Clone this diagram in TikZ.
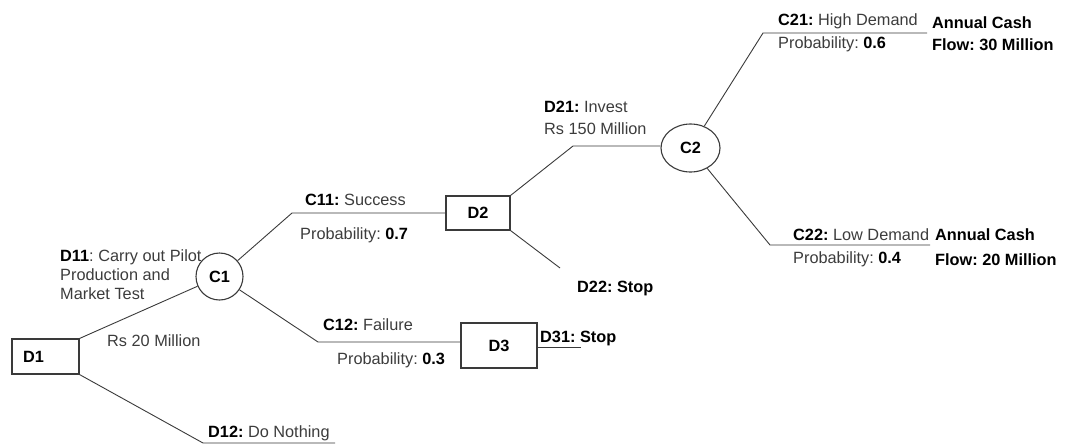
\documentclass[tikz,border=0pt]{standalone}
\usepackage{fontspec}
\setmainfont{Liberation Sans}
\usetikzlibrary{shapes.geometric}
\definecolor{ln}{HTML}{3A3A3A}
\definecolor{tx}{HTML}{3C3C3C}
\newcommand\kb[1]{\textbf{\color{black}#1}}
\frenchspacing
\begin{document}
\frenchspacing
\begin{tikzpicture}[x=1pt,y=-1pt,
  every node/.style={font=\fontsize{16.3}{19}\selectfont\frenchspacing, text=tx},
  lbl/.style={inner sep=0pt, anchor=base west},
  blk/.style={inner sep=0pt, anchor=north west, align=left},
  dbox/.style={draw=ln, line width=1.1pt, fill=white, rectangle, inner sep=0pt},
  cnode/.style={draw=ln, line width=1.1pt, fill=white, ellipse, inner sep=0pt},
  conn/.style={draw=ln, line width=0.9pt}]
\useasboundingbox (0,0) rectangle (1075,445);

% decision and chance nodes
\node[dbox, minimum width=67pt, minimum height=35pt, inner xsep=11pt, text width=45pt, align=left] (D1) at (45.5,356.5) {\kb{D1}};
\node[dbox, minimum width=64pt, minimum height=34pt] (D2) at (478,213) {\kb{D2}};
\node[dbox, minimum width=76pt, minimum height=45pt] (D3) at (499,345.5) {\kb{D3}};
\node[cnode, minimum width=47pt, minimum height=47pt] (C1) at (219.5,276.5) {\kb{C1}};
\node[cnode, minimum width=59pt, minimum height=48pt] (C2) at (690.5,148) {\kb{C2}};

% free corner / end coordinates
\coordinate (d12) at (203,443);
\coordinate (d12e) at (335,443);
\coordinate (c11) at (292,213);
\coordinate (c12) at (318,342);
\coordinate (d21) at (573,146);
\coordinate (d22) at (560,268);
\coordinate (d31e) at (581,347);
\coordinate (c21) at (763,33);
\coordinate (c21e) at (927,33);
\coordinate (c22) at (770,245);
\coordinate (c22e) at (930,245);

% connectors
\draw[conn] (D1.north east) -- (C1);
\draw[conn] (D1.south east) -- (d12) -- (d12e);
\draw[conn] (C1) -- (c11) -- (c11 -| D2.west);
\draw[conn] (C1) -- (c12) -- (c12 -| D3.west);
\draw[conn] (D2.north east) -- (d21) -- (d21 -| C2.west);
\draw[conn] (D2.south east) -- (d22);
\draw[conn] (d31e -| D3.east) -- (d31e);
\draw[conn] (C2) -- (c21) -- (c21e);
\draw[conn] (C2) -- (c22) -- (c22e);

% labels
\node[blk] (t11) at (60,249) {\kb{D11}: Carry out Pilot\\Production and\\Market Test};
\node[lbl] (rs20) at (107,346) {Rs 20 Million};
\node[lbl] (t12) at (208,437) {\kb{D12:} Do Nothing};
\node[lbl] (tc11) at (305,205) {\kb{C11:} Success};
\node[lbl] (p07) at (300,239) {Probability: \kb{0.7}};
\node[lbl] (tc12) at (323,330) {\kb{C12:} Failure};
\node[lbl] (p03) at (337,364) {Probability: \kb{0.3}};
\node[lbl] (t22) at (577,292) {\kb{D22: Stop}};
\node[lbl] (t31) at (540,342) {\kb{D31: Stop}};
\node[blk] (t21) at (544,101) {\kb{D21:} Invest\\[3pt]Rs 150 Million};
\node[lbl] (tc21) at (778,25) {\kb{C21:} High Demand};
\node[lbl] (p06) at (778,48) {Probability: \kb{0.6}};
\node[blk] (cf1) at (932,16) {\kb{Annual Cash}\\[3pt]\kb{Flow: 30 Million}};
\node[lbl] (tc22) at (793,240) {\kb{C22:} Low Demand};
\node[lbl] (p04) at (793,263) {Probability: \kb{0.4}};
\node[blk] (cf2) at (935,228) {\kb{Annual Cash}\\[6pt]\kb{Flow: 20 Million}};
\end{tikzpicture}
\end{document}
